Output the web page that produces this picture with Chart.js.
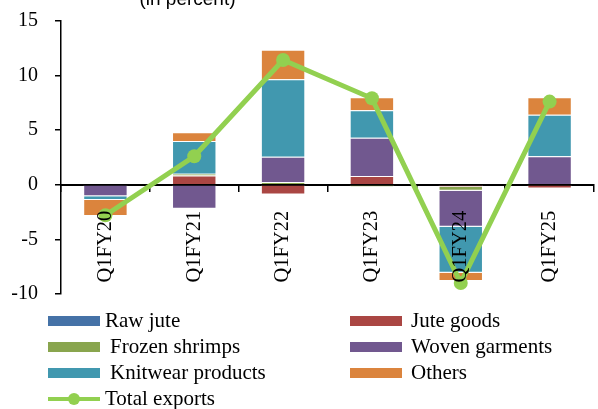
<!DOCTYPE html>
<html>
<head>
<meta charset="utf-8">
<script src="https://cdn.jsdelivr.net/npm/chart.js@4/dist/chart.umd.min.js"></script>
<style>
  html, body { margin: 0; padding: 0; background: #fff; overflow: hidden; }
  #wrap { width: 601px; height: 409px; position: relative; }
</style>
</head>
<body>
<div id="wrap"><canvas id="chart"></canvas></div>
<script>
// quarters and contributions (percentage points)
const quarters = ['Q1FY20', 'Q1FY21', 'Q1FY22', 'Q1FY23', 'Q1FY24', 'Q1FY25'];
const rawJute = [0, 0, 0, 0, 0, 0];
const juteGoods = [0, 0.85, -0.9, 0.8, -0.2, -0.35];
const frozenShrimps = [0, 0.15, 0.25, -0.2, -0.35, 0];
const wovenGarments = [-1.05, -2.2, 2.3, 3.5, -3.3, 2.6];
const knitwear = [-0.36, 3.0, 7.1, 2.5, -4.2, 3.8];
const others = [-1.45, 0.8, 2.7, 1.2, -0.75, 1.6];
const totalExports = [-2.8, 2.6, 11.4, 7.9, -9.0, 7.6];
const yTicks = [-10, -5, 0, 5, 10, 15];

const colors = ['#4572A7', '#AA4643', '#89A54E', '#71588F', '#4198AF', '#DB843D'];
const lineColor = '#92D050';
const serif = '"Liberation Serif", "Times New Roman", serif';

function barSet(label, data, color) {
    return {
        type: 'bar', label: label, data: data,
        backgroundColor: color,
        borderColor: 'rgba(255,255,255,0.55)',
        borderWidth: 1,
        order: 1
    };
}

// legend drawn by hand: two columns like the original
const legendPlugin = {
    id: 'sideLegend',
    afterDraw(chart) {
        const ctx = chart.ctx;
        const ds = chart.data.datasets;
        const slots = [
            [48, 105, 321], [350, 411, 321],
            [48, 110, 347], [350, 411, 347],
            [48, 110, 373], [350, 411, 373],
            [48, 105, 399]
        ];
        ctx.save();
        ctx.font = '21px ' + serif;
        ctx.textBaseline = 'middle';
        ds.forEach((d, i) => {
            const s = slots[i];
            if (d.type === 'bar') {
                ctx.fillStyle = d.backgroundColor;
                ctx.fillRect(s[0], s[2] - 5, 52, 10);
            } else {
                ctx.strokeStyle = d.borderColor;
                ctx.lineWidth = 4;
                ctx.beginPath();
                ctx.moveTo(s[0], s[2]);
                ctx.lineTo(s[0] + 52, s[2]);
                ctx.stroke();
                ctx.fillStyle = d.borderColor;
                ctx.beginPath();
                ctx.arc(s[0] + 26, s[2], 6, 0, Math.PI * 2);
                ctx.fill();
            }
            ctx.fillStyle = '#000';
            ctx.fillText(d.label, s[1], s[2]);
        });
        ctx.restore();
    }
};

const titlePlugin = {
    id: 'topNote',
    afterDraw(chart) {
        const ctx = chart.ctx;
        ctx.save();
        ctx.font = '19px "Liberation Sans", Arial, sans-serif';
        ctx.fillStyle = '#000';
        ctx.textAlign = 'center';
        ctx.textBaseline = 'alphabetic';
        ctx.fillText('(in percent)', 187.5, 5);
        ctx.restore();
    }
};

const ctx = document.getElementById('chart').getContext('2d');
const chart = new Chart(ctx, {
    data: {
        labels: quarters,
        datasets: [
            barSet('Raw jute', rawJute, colors[0]),
            barSet('Jute goods', juteGoods, colors[1]),
            barSet('Frozen shrimps', frozenShrimps, colors[2]),
            barSet('Woven garments', wovenGarments, colors[3]),
            barSet('Knitwear products', knitwear, colors[4]),
            barSet('Others', others, colors[5]),
            {
                type: 'line', label: 'Total exports', data: totalExports,
                borderColor: lineColor, backgroundColor: lineColor,
                borderWidth: 5, pointRadius: 7, pointHoverRadius: 7,
                pointBackgroundColor: lineColor, pointBorderWidth: 0,
                stack: 'total', order: 0, tension: 0
            }
        ]
    },
    options: {
        responsive: true,
        maintainAspectRatio: false,
        animation: false,
        barPercentage: 0.5,
        categoryPercentage: 1,
        layout: { padding: { top: 20.7, bottom: 115, left: 0, right: 0 } },
        plugins: {
            legend: { display: false },
            tooltip: { enabled: false }
        },
        scales: {
            x: {
                stacked: true,
                position: { y: 0 },
                offset: true,
                grid: { display: true, offset: true, drawOnChartArea: false, drawTicks: true, tickLength: 6, color: '#000', lineWidth: 1.5 },
                border: { display: true, color: '#000', width: 2 },
                ticks: { z: 1, color: '#000', font: { family: serif, size: 20.5 }, minRotation: 90, maxRotation: 90, padding: 20, autoSkip: false }
            },
            y: {
                stacked: true,
                min: -10, max: 15,
                afterFit: s => { s.width = 61; s.paddingTop = 0; s.paddingBottom = 0; },
                afterBuildTicks: s => { s.ticks = yTicks.map(v => ({ value: v })); },
                grid: { display: true, drawOnChartArea: false, drawTicks: true, tickLength: 6, color: '#000', lineWidth: 1.5 },
                border: { display: true, color: '#000', width: 1.5 },
                ticks: { color: '#000', font: { family: serif, size: 20 }, padding: 17 }
            }
        }
    },
    plugins: [legendPlugin, titlePlugin]
});
</script>
</body>
</html>
